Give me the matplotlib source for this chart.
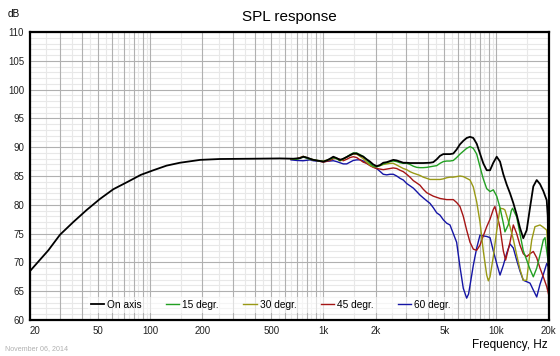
import numpy as np
import matplotlib
matplotlib.use("Agg")
import matplotlib.pyplot as plt
from matplotlib.ticker import FixedLocator, NullFormatter

plt.rcParams['font.family'] = ['Liberation Sans', 'DejaVu Sans']

# frequency / level pairs
on_axis_f = [20, 25.7, 30, 35.8, 42.8, 51, 61, 74, 88, 104, 124, 148, 194, 252, 393, 560,
             670, 732, 765, 800, 836, 874, 914, 956, 1000, 1045, 1092, 1141, 1193, 1247, 1303,
             1363, 1424, 1488, 1557, 1628, 1701, 1778, 1858, 1942, 2032, 2124, 2218, 2322, 2427,
             2535, 2652, 2771, 2896, 3028, 3165, 3460, 3776, 4130, 4316, 4518, 4720, 4932, 5160,
             5390, 5634, 5888, 6156, 6434, 6730, 7036, 7352, 7692, 8036, 8396, 8788, 9184, 9596,
             10038, 10490, 10962, 11468, 11984, 12522, 13092, 13680, 14300, 14964, 15638, 16340,
             17096, 17862, 18666, 19528, 19800, 20000]
on_axis_db = [68.4, 72.1, 74.8, 77.0, 79.1, 81.0, 82.7, 84.0, 85.2, 86.0, 86.8, 87.3, 87.8, 87.95, 88.0, 88.05,
              88.0, 88.1, 88.35, 88.2, 88.0, 87.8, 87.7, 87.6, 87.5, 87.7, 88.0, 88.35, 88.1, 87.8, 88.0,
              88.3, 88.6, 88.9, 88.9, 88.6, 88.35, 87.9, 87.5, 87.0, 86.7, 86.9, 87.3, 87.4, 87.6,
              87.8, 87.7, 87.5, 87.3, 87.3, 87.25, 87.25, 87.25, 87.3, 87.4, 87.9, 88.5, 88.8, 88.8,
              88.8, 88.9, 89.6, 90.5, 91.1, 91.6, 91.8, 91.6, 90.6, 88.9, 87.2, 86.0, 86.0, 87.3,
              88.35, 87.5, 85.3, 83.5, 82.0, 80.3, 78.3, 76.0, 74.2, 75.6, 79.5, 83.2,
              84.3, 83.6, 82.4, 80.8, 78.0, 65.5]

deg15_f = [650, 700, 765, 836, 914, 1000, 1092, 1141, 1193, 1247, 1303, 1363, 1424, 1488, 1557,
           1628, 1701, 1778, 1858, 1942, 2032, 2124, 2218, 2322, 2427, 2535, 2652, 2771, 2896,
           3028, 3165, 3308, 3460, 3614, 3776, 3954, 4130, 4316, 4518, 4720, 4932, 5160, 5390,
           5634, 5888, 6156, 6434, 6730, 7036, 7352, 7692, 8036, 8396, 8788, 9184, 9596, 10038,
           10490, 10962, 11200, 11700, 12200, 12400, 13092, 13680, 14300, 14964, 15638, 16340,
           17096, 17862, 18666, 19100, 19528, 20000]
deg15_db = [88.0, 87.9, 88.3, 87.9, 87.7, 87.5, 87.9, 88.2, 88.0, 87.7, 88.0, 88.3, 88.7, 89.0, 89.0,
            88.7, 88.4, 87.8, 87.2, 86.7, 86.6, 86.8, 87.1, 87.3, 87.5, 87.6, 87.5, 87.3, 87.2,
            87.2, 87.0, 86.7, 86.5, 86.45, 86.45, 86.5, 86.6, 86.7, 86.8, 87.2, 87.5, 87.6, 87.6,
            87.7, 88.2, 88.8, 89.3, 89.8, 90.1, 89.8, 88.8, 86.6, 84.5, 82.8, 82.3, 82.6, 81.5,
            79.5, 76.8, 75.3, 76.5, 79.0, 79.4, 77.9, 75.0, 72.0, 70.4, 68.8, 67.5,
            69.0, 71.3, 73.9, 74.3, 72.0, 69.8]

deg30_f = [650, 700, 765, 836, 914, 1000, 1092, 1141, 1193, 1247, 1303, 1363, 1424, 1488, 1557,
           1628, 1701, 1778, 1858, 1942, 2032, 2124, 2218, 2322, 2427, 2535, 2652, 2771, 2896,
           3028, 3165, 3308, 3460, 3614, 3776, 3954, 4130, 4316, 4518, 4720, 4932, 5160, 5390,
           5634, 5888, 6156, 6434, 6730, 7036, 7352, 7692, 8036, 8396, 8788, 8980, 9184, 9596,
           10038, 10490, 10962, 11200, 11984, 12522, 13092, 13680, 14300, 14964, 15300, 16000,
           16700, 17862, 18666, 19528, 20000]
deg30_db = [88.0, 87.9, 88.4, 88.0, 87.7, 87.6, 87.9, 88.2, 88.0, 87.6, 87.9, 88.3, 88.6, 88.8, 88.8,
            88.4, 88.0, 87.4, 86.9, 86.6, 86.6, 86.8, 87.0, 87.1, 87.2, 87.2, 86.9, 86.6, 86.3,
            86.1, 85.75, 85.5, 85.3, 85.1, 84.8, 84.6, 84.4, 84.4, 84.4, 84.4, 84.5, 84.7, 84.8,
            84.8, 84.9, 85.0, 84.9, 84.6, 84.3, 83.1, 80.5, 77.0, 72.0, 67.8, 66.8, 67.5, 71.0,
            75.5, 79.4, 79.3, 79.1, 76.2, 74.0, 71.3, 68.8, 66.9, 66.9, 69.5, 73.9,
            76.2, 76.5, 76.1, 75.6, 71.0]

deg45_f = [650, 700, 765, 836, 914, 1000, 1092, 1141, 1193, 1247, 1303, 1363, 1424, 1488, 1557,
           1628, 1701, 1778, 1858, 1942, 2032, 2124, 2218, 2322, 2427, 2535, 2652, 2771, 2896,
           3028, 3165, 3308, 3460, 3614, 3776, 3954, 4130, 4316, 4720, 5160, 5390, 5634, 5888,
           6156, 6434, 6730, 7036, 7352, 7692, 8036, 8396, 8788, 9184, 9596, 9800, 10038, 10490,
           10962, 11300, 11984, 12522, 13092, 13680, 14300, 14964, 15638, 16340, 17096, 17862,
           18666, 19528, 20000]
deg45_db = [87.9, 88.0, 88.4, 87.9, 87.7, 87.4, 87.7, 88.0, 88.07, 87.9, 87.65, 87.9, 88.2, 88.35, 88.2,
            87.8, 87.4, 87.2, 86.8, 86.5, 86.3, 86.2, 86.1, 86.2, 86.3, 86.4, 86.3, 86.0, 85.75,
            85.3, 84.8, 84.2, 83.8, 83.4, 82.7, 82.1, 81.8, 81.5, 81.1, 80.9, 80.9, 80.9, 80.4,
            79.7, 78.0, 75.6, 73.5, 72.3, 72.1, 73.0, 74.6, 76.2, 77.5, 79.2, 79.7, 78.5, 76.0,
            72.0, 70.4, 73.5, 76.5, 75.0, 73.0, 71.5, 71.0, 71.5, 71.9, 70.8, 69.0,
            67.5, 65.8, 64.5]

deg60_f = [650, 700, 765, 836, 874, 914, 1000, 1092, 1141, 1193, 1247, 1303, 1363, 1424, 1488,
           1557, 1628, 1701, 1778, 1858, 1942, 2032, 2124, 2218, 2322, 2427, 2535, 2652, 2771,
           2896, 3028, 3165, 3308, 3460, 3614, 3776, 3954, 4130, 4316, 4518, 4720, 4932, 5160,
           5390, 5634, 5888, 6156, 6434, 6730, 6900, 7036, 7352, 7692, 8036, 8396, 8788, 9184,
           9596, 10038, 10490, 10962, 11468, 11984, 12522, 13092, 13680, 14300, 14964, 15638,
           16340, 17096, 17862, 18666, 19528, 20000]
deg60_db = [87.8, 87.7, 87.65, 87.8, 87.65, 87.6, 87.5, 87.6, 87.65, 87.5, 87.3, 87.1, 87.1, 87.4, 87.7,
            87.8, 87.8, 87.6, 87.2, 86.9, 86.6, 86.3, 85.8, 85.3, 85.2, 85.3, 85.3, 85.0, 84.6,
            84.3, 83.7, 83.3, 82.9, 82.3, 81.7, 81.2, 80.7, 80.25, 79.5, 78.6, 78.2, 77.4, 76.8,
            76.5, 75.0, 73.5, 69.25, 65.5, 63.8, 64.5, 66.0, 69.5, 72.5, 74.75, 74.6, 74.5, 74.3,
            72.0, 69.8, 67.8, 69.5, 71.6, 73.2, 72.5, 70.4, 68.5, 66.9, 66.65, 66.4,
            65.2, 64.0, 66.2, 67.9, 69.8, 69.3]

labels = ["On axis", "15 degr.", "30 degr.", "45 degr.", "60 degr."]
colors = ["#000000", "#22a022", "#999915", "#a51515", "#1515a5"]

x_ticks = [20, 50, 100, 200, 500, 1000, 2000, 5000, 10000, 20000]
x_tick_labels = ["20", "50", "100", "200", "500", "1k", "2k", "5k", "10k", "20k"]
y_ticks = list(range(60, 111, 5))

fig = plt.figure(figsize=(5.6, 3.56), dpi=100)
ax = fig.add_axes([29.5 / 560, 1 - 320 / 356, 519 / 560, 288 / 356])

ax.set_xscale("log")
ax.set_xlim(20, 20000)
ax.set_ylim(60, 110)

# grid: darker at 1..9 x decade and every 5 dB, lighter at halves and every 1 dB
dark = []
light = []
for dec in [10, 100, 1000, 10000]:
    for n in range(1, 10):
        dark.append(n * dec)
        light.append((n + 0.5) * dec)
dark = [v for v in dark if 20 <= v <= 20000]
light = [v for v in light if 20 <= v <= 20000]
for v in light:
    ax.axvline(v, color="#e8e8e8", lw=0.8, zorder=0)
for v in range(60, 111):
    if v % 5:
        ax.axhline(v, color="#e8e8e8", lw=0.8, zorder=0)
for v in dark:
    ax.axvline(v, color="#b0b0b0", lw=0.8, zorder=1)
for v in y_ticks:
    ax.axhline(v, color="#b0b0b0", lw=0.8, zorder=1)

series = [(deg60_f, deg60_db, 4), (deg45_f, deg45_db, 3), (deg30_f, deg30_db, 2),
          (deg15_f, deg15_db, 1), (on_axis_f, on_axis_db, 0)]
handles = {}
for f, db, i in series:
    lw = 1.3 if i == 0 else 1.0
    line, = ax.plot(f, db, color=colors[i], lw=lw, zorder=3 + (4 - i))
    handles[i] = line

ax.xaxis.set_major_locator(FixedLocator(x_ticks))
ax.xaxis.set_minor_formatter(NullFormatter())
ax.set_xticks(x_ticks)
ax.set_xticklabels(x_tick_labels)
ax.set_yticks(y_ticks)
ax.tick_params(which="both", length=0, labelsize=7, colors="#222222", pad=4)
ax.tick_params(axis="y", pad=4)
# first label sits just right of the left edge, as in the original
ax.get_xticklabels()[0].set_horizontalalignment("left")

for s in ax.spines.values():
    s.set_linewidth(1.6)
    s.set_color("black")
    s.set_zorder(10)

leg = ax.legend([handles[i] for i in range(5)], labels, ncol=5, loc="center",
                bbox_to_anchor=(0.465, 0.052), fontsize=7.3, frameon=True,
                handlelength=1.3, handletextpad=0.3, columnspacing=2.4,
                borderpad=0.3, fancybox=False)
leg.get_frame().set_facecolor("white")
leg.get_frame().set_alpha(0.6)
leg.get_frame().set_edgecolor("none")
leg.set_zorder(9)

fig.text(289 / 560, 1 - 17 / 356, "SPL response", ha="center", va="center", fontsize=11)
fig.text(14 / 560, 1 - 14 / 356, "dB", ha="center", va="center", fontsize=7.2)
fig.text(548 / 560, 1 - 345 / 356, "Frequency, Hz", ha="right", va="center", fontsize=8.5)
fig.text(5 / 560, 1 - 349 / 356, "November 06, 2014", ha="left", va="center",
         fontsize=5.1, color="#b0b0b0")

fig.savefig("out.png", dpi=100)
